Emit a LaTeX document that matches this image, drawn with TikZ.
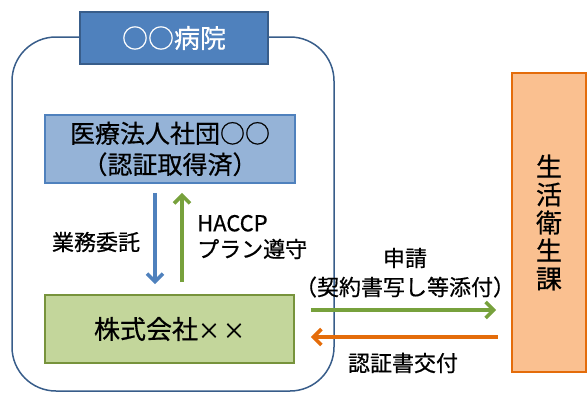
\documentclass[tikz,border=0pt]{standalone}
\usepackage{fontspec}
\setmainfont{Noto Sans CJK JP}[FakeBold=0.6,AutoFakeBold=0.6]
\usetikzlibrary{arrows.meta,calc}
\definecolor{frameblue}{HTML}{385D8A}
\definecolor{titleblue}{HTML}{4F81BD}
\definecolor{lightblue}{HTML}{95B3D7}
\definecolor{lightgreen}{HTML}{C3D69B}
\definecolor{darkgreen}{HTML}{77933C}
\definecolor{arrowgreen}{HTML}{77A13C}
\definecolor{orangefill}{HTML}{FAC090}
\definecolor{orangeline}{HTML}{E46C0A}
\tikzset{
  box/.style={draw, line width=1.8pt, inner sep=0pt, align=center},
  bigarrow/.style={line width=3.6pt, -{Straight Barb[length=8pt,width=16pt,line width=3.6pt]}},
  lbl/.style={inner sep=0pt, align=center, font=\fontsize{22}{26}\selectfont}
}
\begin{document}
\begin{tikzpicture}[x=1pt,y=-1pt]
\useasboundingbox (0,0) rectangle (588,394);
% outer frame
\draw[frameblue, line width=1.5pt, rounded corners=44pt] (12,37) rectangle (334,391);
% title
\node[box, draw=frameblue, fill=titleblue, text=white, minimum width=188pt, minimum height=52pt,
  font=\fontsize{26}{30}\selectfont] (title) at (174,38) {○○病院};
% medical corp
\node[box, draw=titleblue, fill=lightblue, minimum width=250pt, minimum height=68pt,
  font=\fontsize{25}{31}\selectfont] (ikai) at (170,149) {医療法人社団○○\\（認証取得済）};
% company
\node[box, draw=darkgreen, fill=lightgreen, minimum width=249pt, minimum height=68pt,
  font=\fontsize{26}{30}\selectfont] (kabu) at (169.5,329) {株式会社{\fontsize{22}{26}\selectfont ×\hspace{3pt}×}};
% seikatsu eiseika
\node[box, draw=orangeline, fill=orangefill, minimum width=74pt, minimum height=299pt,
  font=\fontsize{26}{28}\selectfont] (sei) at (549,222.5) {生\\活\\衛\\生\\課};
% vertical arrows
\draw[bigarrow, titleblue] ([xshift=-15pt,yshift=-9pt]ikai.south) -- ([xshift=-14.5pt,yshift=10pt]kabu.north);
\draw[bigarrow, arrowgreen] ([xshift=12.5pt,yshift=12pt]kabu.north) -- ([xshift=12pt,yshift=-9pt]ikai.south);
% horizontal arrows
\coordinate (g1) at ($(kabu.east)+(16,-19)$);
\coordinate (o1) at ($(kabu.east)+(203,8)$);
\draw[bigarrow, arrowgreen] (g1) -- ([xshift=-15pt]sei.west |- g1);
\draw[bigarrow, orangeline] (o1) -- ($(kabu.east)+(16,8)$);
% labels
\node[lbl] (l1) at (96,242) {業務委託};
\node[lbl, anchor=west, align=left] (l2) at (197,237) {HACCP\\プラン遵守};
\node[lbl] (l3) at (405,258) {申請};
\node[lbl] (l4) at (405,287) {（契約書写し等添付）};
\node[lbl] (l5) at (403,363) {認証書交付};
\end{tikzpicture}
\end{document}
